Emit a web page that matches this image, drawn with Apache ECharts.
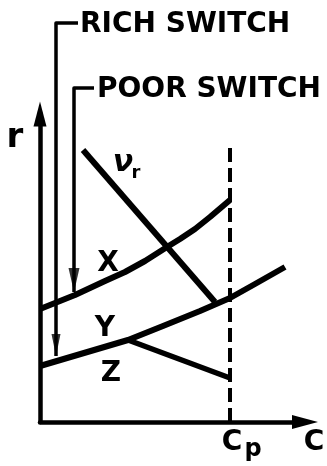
<!DOCTYPE html>
<html>
<head>
<meta charset="utf-8">
<script src="https://cdn.jsdelivr.net/npm/echarts@6/dist/echarts.min.js"></script>
<style>
  html, body { margin: 0; padding: 0; background: #fff; }
  #chart { width: 327px; height: 466px; }
</style>
</head>
<body>
<div id="chart"></div>
<script>
// Concentration C (horizontal) against rate r (vertical), arbitrary units.
const cpValue = 19;                 // position of Cp on the C axis
const cMax = 26.5;
const rMax = 30.8;

// Curve X (upper branch)
const curveXC = [0, 2, 3.5, 5, 6.5, 8.5, 10.5, 12.7, 14, 15.5, 17, 19];
const curveXR = [11.3, 12.1, 12.7, 13.4, 14.1, 15.0, 16.1, 17.5, 18.3, 19.3, 20.5, 22.2];

// Curve Y (lower branch, continuing past Cp)
const curveYC = [0, 8.8, 12.3, 16, 19, 21.5, 24.5];
const curveYR = [5.6, 8.2, 9.6, 11.1, 12.4, 13.8, 15.5];

// Curve Z (falling branch from the Y kink to Cp)
const curveZC = [8.8, 19];
const curveZR = [8.2, 4.4];

// Line nu_r
const nuC = [4.3, 17.5];
const nuR = [27.2, 12.0];

// Dashed Cp marker
const cpLineR = [0, 27.9];

// Switch pointers: horizontal lead-in, then vertical drop to the tip
const richC = [3.8, 1.6, 1.6];
const richR = [39.9, 39.9, 6.6];
const poorC = [5.4, 3.4, 3.4];
const poorR = [33.4, 33.4, 13.0];

const zip = (a, b) => a.map((v, i) => [v, b[i]]);

const INK = '#000';
const chart = echarts.init(document.getElementById('chart'), null, { renderer: 'canvas' });

function lineSeries(data, width, dash) {
  return {
    type: 'line',
    data: data,
    showSymbol: false,
    symbol: 'none',
    smooth: false,
    clip: false,
    silent: true,
    lineStyle: { color: INK, width: width, type: dash || 'solid', cap: 'butt', join: 'round' }
  };
}

const font = 'bold 28px "DejaVu Sans"';
function txt(text, x, y, f, align) {
  return {
    type: 'text', x: x, y: y, silent: true,
    style: {
      text: text, font: f || font, fill: INK,
      align: align || 'center', verticalAlign: 'middle',
      textAlign: align || 'center', textVerticalAlign: 'middle'
    }
  };
}

chart.setOption({
  animation: false,
  backgroundColor: '#fff',
  grid: { left: 40, right: 22, top: 114, bottom: 44, containLabel: false },
  xAxis: {
    type: 'value', min: 0, max: cMax,
    axisLine: { show: true, symbol: ['none', 'triangle'], symbolSize: [14, 26],
                lineStyle: { color: INK, width: 4.5 } },
    axisTick: { show: false }, axisLabel: { show: false }, splitLine: { show: false }
  },
  yAxis: {
    type: 'value', min: 0, max: rMax,
    axisLine: { show: true, symbol: ['none', 'triangle'], symbolSize: [13, 25],
                lineStyle: { color: INK, width: 4.5 } },
    axisTick: { show: false }, axisLabel: { show: false }, splitLine: { show: false }
  },
  series: [
    lineSeries(zip(curveXC, curveXR), 6),
    lineSeries(zip(curveYC, curveYR), 6),
    lineSeries(zip(curveZC, curveZR), 5.5),
    lineSeries(zip(nuC, nuR), 6),
    lineSeries(zip([cpValue, cpValue], cpLineR), 4, [14, 6]),
    lineSeries(zip(richC, richR), 3.5),
    lineSeries(zip(poorC, poorR), 3.5),
    {
      type: 'scatter', silent: true, clip: false,
      data: [zip(richC, richR)[2]],
      symbol: 'triangle', symbolRotate: 180, symbolSize: [9, 22], symbolOffset: [0, -11],
      itemStyle: { color: INK }
    },
    {
      type: 'scatter', silent: true, clip: false,
      data: [zip(poorC, poorR)[2]],
      symbol: 'triangle', symbolRotate: 180, symbolSize: [11, 24], symbolOffset: [0, -12],
      itemStyle: { color: INK }
    }
  ],
  graphic: [
    txt('RICH SWITCH', 80, 25, font, 'left'),
    txt('POOR SWITCH', 97, 90, font, 'left'),
    txt('r', 15, 138, 'bold 34px "DejaVu Sans"'),
    txt('ν', 123, 163, 'italic bold 30px "DejaVu Sans"'),
    txt('r', 136, 173, 'bold 18px "DejaVu Sans"'),
    txt('X', 108, 264),
    txt('Y', 105, 329),
    txt('Z', 111, 374),
    txt('C', 232, 443),
    txt('p', 253, 450, 'bold 24px "DejaVu Sans"'),
    txt('C', 314, 443)
  ]
});
</script>
</body>
</html>
